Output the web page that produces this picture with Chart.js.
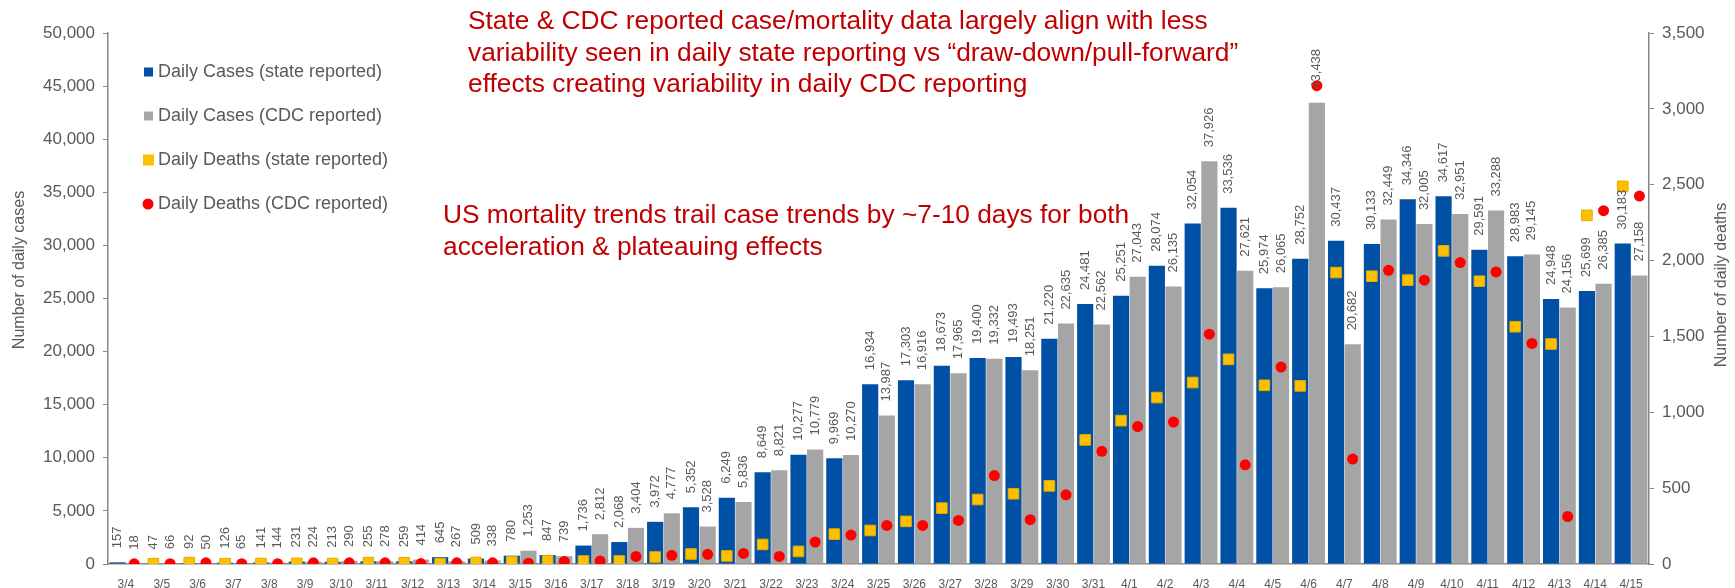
<!DOCTYPE html>
<html>
<head>
<meta charset="utf-8">
<script src="https://cdn.jsdelivr.net/npm/chart.js@4/dist/chart.umd.min.js"></script>
<style>
html, body { margin: 0; padding: 0; background: #fff; }
#wrap { width: 1735px; height: 588px; position: relative; }
</style>
</head>
<body>
<div id="wrap"><canvas id="canvas"></canvas></div>
<script>
var dates = ['3/4','3/5','3/6','3/7','3/8','3/9','3/10','3/11','3/12','3/13','3/14','3/15','3/16','3/17',
  '3/18','3/19','3/20','3/21','3/22','3/23','3/24','3/25','3/26','3/27','3/28','3/29','3/30','3/31',
  '4/1','4/2','4/3','4/4','4/5','4/6','4/7','4/8','4/9','4/10','4/11','4/12','4/13','4/14','4/15'];

var stateCases = [157, 47, 92, 126, 141, 231, 213, 255, 259, 645, 509, 780, 847, 1736,
  2068, 3972, 5352, 6249, 8649, 10277, 9969, 16934, 17303, 18673, 19400, 19493, 21220, 24481,
  25251, 28074, 32054, 33536, 25974, 28752, 30437, 30133, 34346, 34617, 29591, 28983, 24948, 25699, 30183];

var cdcCases = [18, 66, 50, 65, 144, 224, 290, 278, 414, 267, 338, 1253, 739, 2812,
  3404, 4777, 3528, 5836, 8821, 10779, 10270, 13987, 16916, 17965, 19332, 18251, 22635, 22562,
  27043, 26135, 37926, 27621, 26065, 43438, 20682, 32449, 32005, 32951, 33288, 29145, 24156, 26385, 27158];

var stateDeaths = [null, 2, 9, 2, 3, 4, 3, 9, 8, 3, 10, 15, 22, 20,
  20, 46, 66, 53, 129, 83, 197, 221, 281, 368, 425, 463, 515, 818,
  945, 1097, 1196, 1349, 1178, 1174, 1921, 1897, 1871, 2064, 1864, 1564, 1450, 2298, 2489];

var cdcDeaths = [1, 2, 8, 2, 2, 8, 8, 8, 3, 8, 8, 5, 17, 20,
  50, 57, 64, 70, 50, 145, 191, 254, 254, 287, 583, 292, 456, 743,
  906, 936, 1515, 654, 1298, 3153, 692, 1936, 1871, 1987, 1925, 1454, 313, 2329, 2425];

var seriesNames = ['Daily Cases (state reported)', 'Daily Cases (CDC reported)',
  'Daily Deaths (state reported)', 'Daily Deaths (CDC reported)'];

var note1 = ['State & CDC reported case/mortality data largely align with less',
  'variability seen in daily state reporting vs \u201cdraw-down/pull-forward\u201d',
  'effects creating variability in daily CDC reporting'];
var note2 = ['US mortality trends trail case trends by ~7-10 days for both',
  'acceleration & plateauing effects'];

var FONT = '"Liberation Sans", Arial, sans-serif';
var GREY = '#595959';
var AXIS = '#868686';

function fmt(v) { return Number(v).toLocaleString('en-US'); }

var extras = {
  id: 'extras',
  // put each death marker over the matching bar (state -> blue, CDC -> grey)
  afterDatasetsUpdate: function(chart) {
    [[2, 0], [3, 1]].forEach(function(pair) {
      var pts = chart.getDatasetMeta(pair[0]).data;
      var bars = chart.getDatasetMeta(pair[1]).data;
      pts.forEach(function(p, i) { if (bars[i]) p.x = bars[i].x; });
    });
  },
  afterDatasetsDraw: function(chart) {
    var ctx = chart.ctx;
    ctx.save();
    ctx.font = '13px ' + FONT;
    ctx.fillStyle = GREY;
    ctx.textAlign = 'left';
    ctx.textBaseline = 'middle';
    [0, 1].forEach(function(k) {
      var vals = chart.data.datasets[k].data;
      chart.getDatasetMeta(k).data.forEach(function(bar, i) {
        ctx.save();
        ctx.translate(bar.x, bar.y - 14);
        ctx.rotate(-Math.PI / 2);
        ctx.fillText(fmt(vals[i]), 0, 0);
        ctx.restore();
      });
    });
    ctx.restore();
  },
  afterDraw: function(chart) {
    var ctx = chart.ctx;
    ctx.save();

    // legend
    var ds = chart.data.datasets;
    ctx.font = '18px ' + FONT;
    ctx.textBaseline = 'middle';
    ctx.textAlign = 'left';
    for (var i = 0; i < 4; i++) {
      var y = 72 + i * 44;
      var d = ds[i];
      ctx.fillStyle = d.backgroundColor;
      if (i == 3) {
        ctx.beginPath();
        ctx.arc(148, y, 5.5, 0, Math.PI * 2);
        ctx.fill();
      } else if (i == 2) {
        ctx.fillRect(143, y - 5.5, 11, 11);
      } else {
        ctx.fillRect(144, y - 4.5, 9, 9);
      }
      ctx.fillStyle = GREY;
      ctx.fillText(d.label, 158, y);
    }

    // axis titles (both read bottom to top)
    ctx.font = '16px ' + FONT;
    ctx.textAlign = 'center';
    ctx.save();
    ctx.translate(20, 270);
    ctx.rotate(-Math.PI / 2);
    ctx.fillText('Number of daily cases', 0, 0);
    ctx.restore();
    ctx.save();
    ctx.translate(1722, 285);
    ctx.rotate(-Math.PI / 2);
    ctx.fillText('Number of daily deaths', 0, 0);
    ctx.restore();

    // red notes
    ctx.font = '26.3px ' + FONT;
    ctx.fillStyle = '#C00000';
    ctx.textAlign = 'left';
    note1.forEach(function(t, k) { ctx.fillText(t, 468, 22 + k * 31.5); });
    note2.forEach(function(t, k) { ctx.fillText(t, 443, 216 + k * 31.5); });

    ctx.restore();
  }
};

var ctx = document.getElementById('canvas').getContext('2d');
var myChart = new Chart(ctx, {
  type: 'bar',
  data: {
    labels: dates,
    datasets: [{
      label: seriesNames[0],
      data: stateCases,
      backgroundColor: '#0050A5',
      yAxisID: 'y',
      order: 2
    }, {
      label: seriesNames[1],
      data: cdcCases,
      backgroundColor: '#A5A5A5',
      yAxisID: 'y',
      order: 2
    }, {
      type: 'line',
      label: seriesNames[2],
      data: stateDeaths,
      yAxisID: 'y1',
      showLine: false,
      pointStyle: 'rect',
      pointRadius: 7.5,
      pointBorderWidth: 1,
      backgroundColor: '#FFC000',
      borderColor: '#E3AA00',
      order: 1
    }, {
      type: 'line',
      label: seriesNames[3],
      data: cdcDeaths,
      yAxisID: 'y1',
      showLine: false,
      pointStyle: 'circle',
      pointRadius: 5.5,
      pointBorderWidth: 0,
      backgroundColor: '#FF0000',
      borderColor: '#FF0000',
      order: 1
    }]
  },
  options: {
    responsive: true,
    maintainAspectRatio: false,
    animation: false,
    layout: { padding: { top: 33, left: 0, right: 0, bottom: 0 } },
    datasets: {
      bar: { categoryPercentage: 0.93, barPercentage: 0.97 }
    },
    plugins: {
      legend: { display: false },
      tooltip: { enabled: false }
    },
    scales: {
      x: {
        type: 'category',
        offset: true,
        grid: { display: false },
        border: { display: true, color: AXIS, width: 1.5 },
        ticks: { font: { size: 12, family: FONT }, color: GREY, maxRotation: 0, autoSkip: false, padding: 5 },
        afterFit: function(s) { s.height = 24; }
      },
      y: {
        position: 'left',
        min: 0,
        max: 50000,
        grid: { drawOnChartArea: false, tickLength: 5, color: AXIS },
        border: { display: true, color: AXIS, width: 1.5 },
        ticks: { stepSize: 5000, font: { size: 17, family: FONT }, color: GREY, padding: 8, callback: fmt },
        afterFit: function(s) { s.width = 108; }
      },
      y1: {
        position: 'right',
        min: 0,
        max: 3500,
        grid: { drawOnChartArea: false, tickLength: 5, color: AXIS },
        border: { display: true, color: AXIS, width: 1.5 },
        ticks: { stepSize: 500, font: { size: 17, family: FONT }, color: GREY, padding: 8, callback: fmt },
        afterFit: function(s) { s.width = 86; }
      }
    }
  },
  plugins: [extras]
});
</script>
</body>
</html>
